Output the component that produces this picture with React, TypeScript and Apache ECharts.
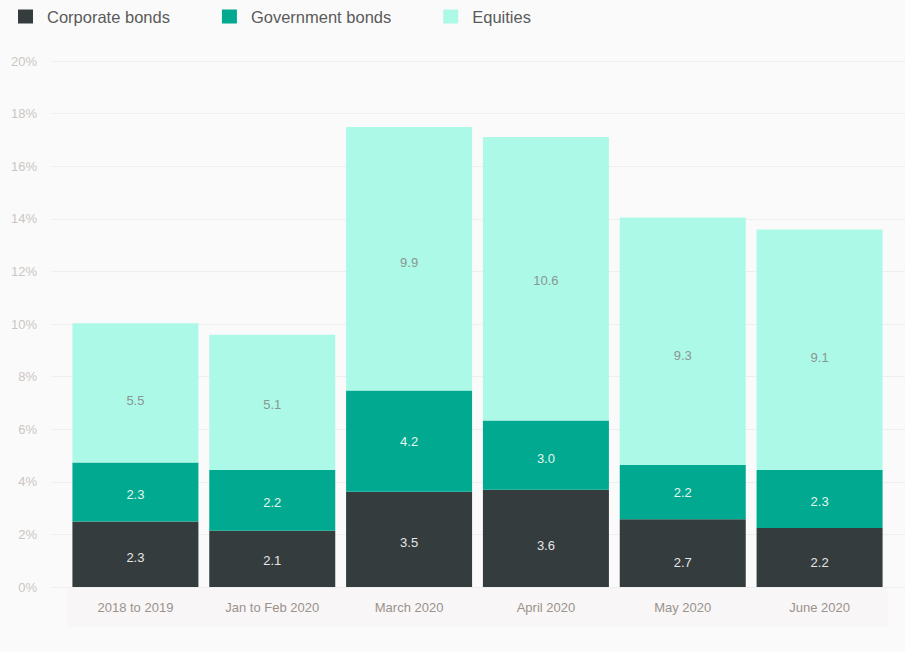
import React, { useEffect, useRef } from "react";
import * as echarts from "echarts";

const categories = ["2018 to 2019", "Jan to Feb 2020", "March 2020", "April 2020", "May 2020", "June 2020"];
const seriesNames = ["Corporate bonds", "Government bonds", "Equities"];
// bar segment heights (percentage points) as drawn
const corporateValues = [2.49, 2.14, 3.62, 3.7, 2.58, 2.24];
const governmentValues = [2.24, 2.31, 3.85, 2.63, 2.06, 2.21];
const equitiesValues = [5.3, 5.14, 10.02, 10.78, 9.41, 9.14];
// printed labels
const corporateLabels = ["2.3", "2.1", "3.5", "3.6", "2.7", "2.2"];
const governmentLabels = ["2.3", "2.2", "4.2", "3.0", "2.2", "2.3"];
const equitiesLabels = ["5.5", "5.1", "9.9", "10.6", "9.3", "9.1"];
const yTicks = { min: 0, max: 20, interval: 2 };

// style: vertical nudges of the in-bar labels (px), as placed in the original
const STYLE_LABEL_NUDGE = [
  [3, 1.5, 3, 7.5, 9, 4.5],
  [2, 2, 0, 3, 0, 2],
  [8, 2, 4, 2, 14, 8],
];

const colors = ["#343c3e", "#00a98f", "#adf9e8"];
const FONT = "'Liberation Sans', Arial, Helvetica, sans-serif";

export default function App() {
  const ref = useRef<HTMLDivElement>(null);
  useEffect(() => {
    if (!ref.current) return;
    const chart = echarts.init(ref.current, null, { renderer: "svg" });
    const mk = (idx: number, vals: number[], labels: string[], labelColor: string) => ({
      name: seriesNames[idx],
      type: "bar",
      stack: "total",
      xAxisIndex: 1,
      yAxisIndex: 1,
      barWidth: 126,
      data: vals.map((v, i) => ({ value: v, label: { offset: [0, STYLE_LABEL_NUDGE[idx][i]] } })),
      itemStyle: { color: colors[idx] },
      label: {
        show: true,
        position: "inside",
        color: labelColor,
        fontSize: 13,
        fontFamily: FONT,
        formatter: (p: any) => labels[p.dataIndex],
      },
    });
    chart.setOption({
      animation: false,
      backgroundColor: "#fafafa",
      textStyle: { fontFamily: FONT },
      color: colors,
      legend: {
        left: 13,
        top: 3,
        icon: "rect",
        itemWidth: 15,
        itemHeight: 14,
        itemGap: 52,
        data: seriesNames,
        textStyle: { fontSize: 16.5, color: "#5a5a5a", fontFamily: FONT, padding: [3, 0, 0, 9] },
      },
      grid: [
        { left: 51, right: 0, top: 61, bottom: 65 },
        { left: 67, right: 17, top: 61, bottom: 65 },
      ],
      xAxis: [
        { type: "value", gridIndex: 0, show: false, min: 0, max: 1 },
        {
          type: "category",
          gridIndex: 1,
          data: categories,
          axisLine: { show: false },
          axisTick: { show: false },
          axisLabel: { color: "#9b928d", fontSize: 13, margin: 14, fontFamily: FONT },
        },
      ],
      yAxis: [
        {
          type: "value",
          gridIndex: 0,
          min: yTicks.min,
          max: yTicks.max,
          interval: yTicks.interval,
          axisLine: { show: false },
          axisTick: { show: false },
          axisLabel: { formatter: "{value}%", color: "#cbc6c3", fontSize: 13, margin: 14, fontFamily: FONT },
          splitLine: { lineStyle: { color: "#eeeeee", width: 1 } },
        },
        {
          type: "value",
          gridIndex: 1,
          min: yTicks.min,
          max: yTicks.max,
          interval: yTicks.interval,
          show: false,
          splitLine: { show: false },
        },
      ],
      graphic: [
        {
          type: "rect",
          z: -10,
          shape: { x: 67, y: 587, width: 821, height: 40 },
          style: { fill: "#f8f6f6" },
        },
      ],
      series: [
        mk(0, corporateValues, corporateLabels, "#e6e6e6"),
        mk(1, governmentValues, governmentLabels, "#e6f5f1"),
        mk(2, equitiesValues, equitiesLabels, "#8a9692"),
      ],
    });
    return () => chart.dispose();
  }, []);
  return <div ref={ref} style={{ position: "absolute", left: 0, top: 0, width: 905, height: 652 }} />;
}
